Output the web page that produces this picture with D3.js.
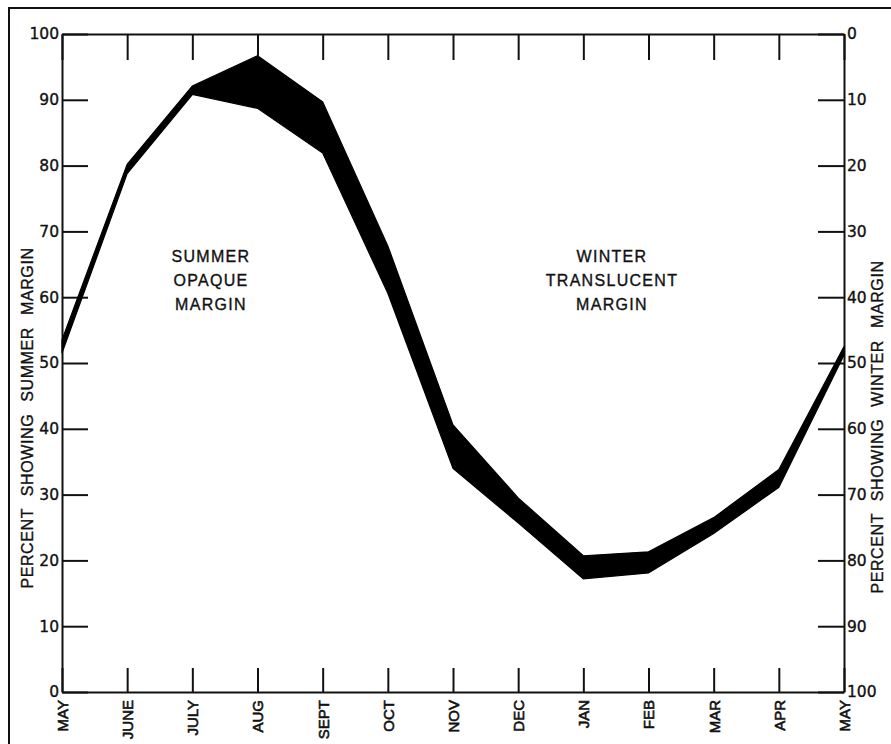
<!DOCTYPE html>
<html>
<head>
<meta charset="utf-8">
<script src="https://cdn.jsdelivr.net/npm/d3@7/dist/d3.min.js"></script>
<style>
  html, body { margin: 0; padding: 0; background: #fff; }
  svg { display: block; }
</style>
</head>
<body>
<svg id="chart" width="891" height="744"></svg>
<script>
// Month positions from May to the following May
const months = ["MAY", "JUNE", "JULY", "AUG", "SEPT", "OCT", "NOV", "DEC", "JAN", "FEB", "MAR", "APR", "MAY"];
// Percent showing summer (opaque) margin: upper and lower edge of the band
const upperPct = [53.5, 80.2, 92.1, 96.7, 89.7, 67.8, 40.6, 29.5, 20.7, 21.3, 26.5, 33.8, 52.5];
const lowerPct = [51.5, 78.8, 90.8, 88.7, 81.9, 60.6, 34.0, 25.7, 17.2, 18.1, 24.1, 31.1, 51.2];
// Tick values for both percentage scales
const pctTicks = [0, 10, 20, 30, 40, 50, 60, 70, 80, 90, 100];

(function () {
  const svg = d3.select("#chart");
  const ink = "#111";
  const plotLeft = 62, plotRight = 844, plotTop = 34, plotBottom = 692;

  svg.append("rect").attr("width", 891).attr("height", 744).attr("fill", "#fff");

  // outer frame (left and top edges visible)
  svg.append("path")
    .attr("d", "M9,744 L9,8 L891,8")
    .attr("fill", "none").attr("stroke", ink).attr("stroke-width", 2);

  const x = d3.scaleLinear().domain([0, months.length - 1]).range([plotLeft, plotRight]);
  const yL = d3.scaleLinear().domain([0, 100]).range([plotBottom, plotTop]);
  const yR = d3.scaleLinear().domain([0, 100]).range([plotTop, plotBottom]);

  const numFont = "DejaVu Sans, sans-serif";
  const letterFont = "Liberation Sans, Arial, sans-serif";

  function styleAxis(g) {
    g.selectAll("path.domain").attr("stroke", ink).attr("stroke-width", 2);
    g.selectAll(".tick line").attr("stroke", ink).attr("stroke-width", 2);
  }
  function inkText(sel) {
    sel.attr("fill", ink).attr("stroke", ink).attr("stroke-width", 0.35);
  }

  // left axis
  const gL = svg.append("g").attr("transform", `translate(${plotLeft},0)`)
    .call(d3.axisLeft(yL).tickValues(pctTicks).tickSize(-26).tickSizeOuter(0).tickPadding(3));
  styleAxis(gL);
  gL.selectAll("text").attr("font-family", numFont).attr("font-size", 15.5).call(inkText);

  // right axis
  const gR = svg.append("g").attr("transform", `translate(${plotRight},0)`)
    .call(d3.axisRight(yR).tickValues(pctTicks).tickSize(-26).tickSizeOuter(0).tickPadding(3));
  styleAxis(gR);
  gR.selectAll("text").attr("font-family", numFont).attr("font-size", 15.5).call(inkText);

  // top axis (ticks only)
  const gT = svg.append("g").attr("transform", `translate(0,${plotTop})`)
    .call(d3.axisTop(x).ticks(12).tickSize(-26).tickSizeOuter(0).tickFormat(""));
  styleAxis(gT);

  // bottom axis with vertical month labels
  const gB = svg.append("g").attr("transform", `translate(0,${plotBottom})`)
    .call(d3.axisBottom(x).ticks(12).tickSize(-24).tickSizeOuter(0).tickFormat(i => months[i]));
  styleAxis(gB);
  gB.selectAll("text")
    .attr("transform", "rotate(-90)")
    .attr("x", -8).attr("y", 0).attr("dy", "0.36em")
    .style("text-anchor", "end")
    .attr("font-family", letterFont).attr("font-size", 15)
    .call(inkText).attr("stroke-width", 0.6);

  // the band between upper and lower percentages
  const area = d3.area()
    .x((d, i) => x(i))
    .y0((d, i) => yL(lowerPct[i]))
    .y1((d, i) => yL(upperPct[i]))
    .curve(d3.curveLinear);
  svg.append("path")
    .datum(months)
    .attr("d", area)
    .attr("fill", "#000")
    .attr("stroke", "#000")
    .attr("stroke-width", 1.2)
    .attr("stroke-linejoin", "miter");

  // axis titles
  svg.append("text")
    .attr("transform", "translate(33,418) rotate(-90)")
    .attr("text-anchor", "middle")
    .attr("font-family", letterFont).attr("font-size", 16)
    .attr("letter-spacing", 0.6).attr("word-spacing", 7)
    .call(inkText)
    .text("PERCENT SHOWING SUMMER MARGIN");

  svg.append("text")
    .attr("transform", "translate(883,427) rotate(-90)")
    .attr("text-anchor", "middle")
    .attr("font-family", letterFont).attr("font-size", 16)
    .attr("letter-spacing", 0.6).attr("word-spacing", 7)
    .call(inkText)
    .text("PERCENT SHOWING WINTER MARGIN");

  // region labels
  const regionLabels = [
    { cx: 211, lines: ["SUMMER", "OPAQUE", "MARGIN"] },
    { cx: 612, lines: ["WINTER", "TRANSLUCENT", "MARGIN"] }
  ];
  regionLabels.forEach(lbl => {
    lbl.lines.forEach((t, k) => {
      svg.append("text")
        .attr("x", lbl.cx).attr("y", 262 + k * 24)
        .attr("text-anchor", "middle")
        .attr("font-family", letterFont).attr("font-size", 16)
        .attr("letter-spacing", 1.3)
        .call(inkText)
        .text(t);
    });
  });
})();
</script>
</body>
</html>
